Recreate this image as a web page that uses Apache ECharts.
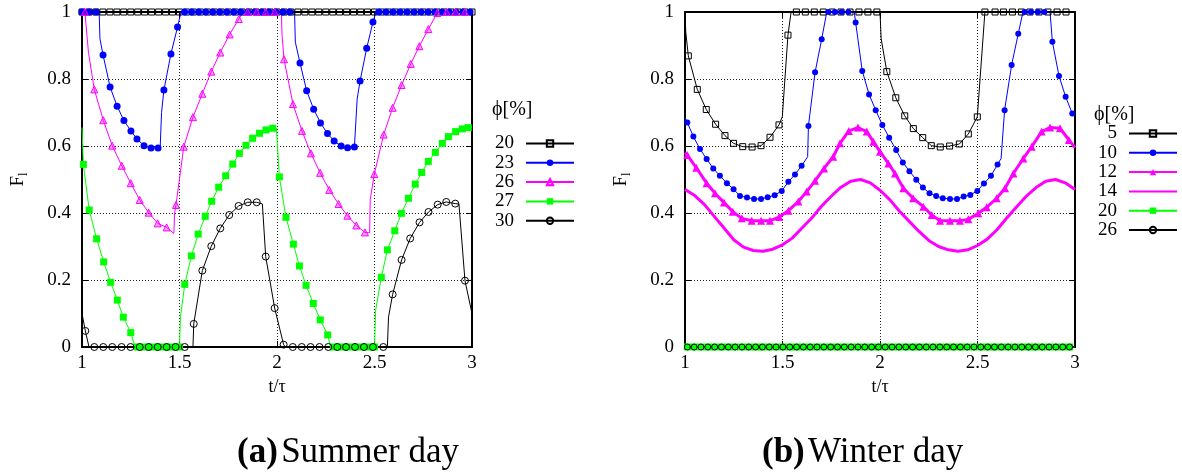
<!DOCTYPE html>
<html><head><meta charset="utf-8">
<script src="https://cdn.jsdelivr.net/npm/echarts@6.0.0/dist/echarts.min.js"></script>
<style>html,body{margin:0;padding:0;background:#fff}#c{width:1182px;height:472px}</style>
</head><body><div id="c"></div><script>
// ---------- tick labels ----------
const xTicks = [1, 1.5, 2, 2.5, 3];
const yTicks = [0, 0.2, 0.4, 0.6, 0.8, 1];

// ---------- (a) Summer day: phi = 20, 23, 26, 27, 30 ----------
const a20 = [[1.000,1],[1.036,1],[1.071,1],[1.107,1],[1.143,1],[1.179,1],[1.214,1],[1.250,1],[1.286,1],[1.321,1],[1.357,1],[1.393,1],[1.429,1],[1.464,1],[1.500,1],[1.536,1],[1.571,1],[1.607,1],[1.643,1],[1.679,1],[1.714,1],[1.750,1],[1.786,1],[1.821,1],[1.857,1],[1.893,1],[1.929,1],[1.964,1],[2.000,1],[2.036,1],[2.071,1],[2.107,1],[2.143,1],[2.179,1],[2.214,1],[2.250,1],[2.286,1],[2.321,1],[2.357,1],[2.393,1],[2.429,1],[2.464,1],[2.500,1],[2.536,1],[2.571,1],[2.607,1],[2.643,1],[2.679,1],[2.714,1],[2.750,1],[2.786,1],[2.821,1],[2.857,1],[2.893,1],[2.929,1],[2.964,1],[3.000,1]];
const a20_line = [];

const a23 = [[1.000,1],[1.036,1],[1.072,1],
  [1.108,0.872],[1.144,0.776],[1.180,0.719],[1.215,0.676],[1.251,0.645],[1.282,0.621],[1.318,0.601],[1.354,0.594],[1.390,0.594],
  [1.420,0.767],[1.456,0.875],[1.490,0.955],
  [1.526,1],[1.562,1],[1.598,1],[1.634,1],[1.670,1],[1.706,1],[1.742,1],[1.778,1],[1.814,1],[1.850,1],[1.886,1],[1.922,1],[1.958,1],[1.994,1],[2.030,1],[2.066,1],
  [2.118,0.848],[2.152,0.765],[2.188,0.710],[2.223,0.669],[2.259,0.637],[2.293,0.615],[2.329,0.600],[2.362,0.595],[2.397,0.597],
  [2.426,0.794],[2.460,0.892],[2.492,0.970],
  [2.522,1],[2.558,1],[2.594,1],[2.630,1],[2.666,1],[2.702,1],[2.738,1],[2.774,1],[2.810,1],[2.846,1],[2.882,1],[2.918,1],[2.954,1],[2.990,1]];
const a23_line = [[1.088,1],[1.092,0.92],[1.401,0.597],[1.408,0.70],[1.508,1],[2.090,1],[2.094,0.91],[2.403,0.600],[2.411,0.74],[2.508,1],[3.000,1]];

const a26 = [[1.015,1],
  [1.063,0.769],[1.109,0.677],[1.155,0.601],[1.204,0.541],[1.250,0.489],[1.296,0.439],[1.342,0.401],[1.388,0.369],[1.434,0.357],
  [1.482,0.424],[1.522,0.598],[1.569,0.686],[1.617,0.756],[1.663,0.822],[1.709,0.879],[1.757,0.933],[1.804,0.979],
  [1.849,1],[1.895,1],[1.942,1],[1.988,1],
  [2.036,0.859],[2.082,0.725],[2.128,0.645],[2.174,0.578],[2.221,0.520],[2.268,0.469],[2.316,0.427],[2.361,0.392],[2.407,0.363],[2.451,0.342],
  [2.499,0.516],[2.547,0.634],[2.593,0.714],[2.639,0.782],[2.686,0.845],[2.730,0.898],[2.776,0.949],[2.822,0.997],
  [2.870,1],[2.916,1],[2.963,1]];
const a26_line = [[1.000,1],[1.021,1],[1.033,0.880],[1.471,0.339],[1.475,0.40],[1.826,1],[2.022,1],[2.026,0.93],[2.475,0.341],[2.478,0.44],[2.830,1],[3.000,1]];

const a27 = [[1.007,0.545],[1.037,0.409],[1.075,0.323],[1.111,0.254],[1.147,0.193],[1.181,0.140],[1.212,0.089],[1.250,0.043],
  [1.284,0],[1.320,0],[1.356,0],[1.392,0],[1.428,0],[1.464,0],[1.500,0],
  [1.527,0.187],[1.561,0.272],[1.596,0.337],[1.632,0.390],[1.665,0.435],[1.701,0.477],[1.737,0.511],[1.773,0.546],[1.807,0.578],[1.841,0.602],[1.875,0.623],[1.910,0.638],[1.944,0.648],[1.978,0.653],
  [2.012,0.508],[2.046,0.387],[2.084,0.307],[2.115,0.242],[2.149,0.184],[2.186,0.130],[2.222,0.081],[2.260,0.036],
  [2.290,0],[2.326,0],[2.362,0],[2.398,0],[2.434,0],[2.470,0],[2.500,0],
  [2.535,0.208],[2.566,0.290],[2.604,0.347],[2.638,0.399],[2.674,0.444],[2.709,0.486],[2.742,0.521],[2.776,0.554],[2.812,0.581],[2.848,0.608],[2.879,0.628],[2.916,0.643],[2.950,0.651],[2.981,0.655]];
const a27_line = [[1.000,0.655],[1.272,0],[1.502,0],[1.505,0.09],[1.997,0.654],[2.275,0],[2.503,0],[2.506,0.11],[3.000,0.656]];

const a30 = [[1.017,0.048],
  [1.063,0],[1.109,0],[1.155,0],[1.203,0],[1.249,0],[1.296,0],[1.342,0],[1.388,0],[1.434,0],[1.480,0],[1.527,0],
  [1.573,0.069],[1.617,0.228],[1.663,0.301],[1.709,0.354],[1.755,0.394],[1.803,0.421],[1.850,0.432],[1.896,0.432],
  [1.942,0.270],[1.988,0.116],[2.034,0.007],
  [2.081,0],[2.127,0],[2.172,0],[2.218,0],[2.263,0],[2.309,0],[2.354,0],[2.400,0],[2.446,0],[2.492,0],[2.545,0],
  [2.593,0.157],[2.639,0.260],[2.683,0.324],[2.731,0.372],[2.777,0.403],[2.824,0.425],[2.868,0.433],[2.914,0.428],
  [2.964,0.198]];
const a30_line = [[1.000,0.100],[1.036,0],[1.569,0],[1.925,0.427],[2.042,0],[2.566,0],[2.572,0.09],[2.933,0.427],[3.000,0.100]];

// ---------- (b) Winter day: phi = 5, 10, 12, 14, 20, 26 ----------
const b5 = [[1.017,0.869],[1.063,0.769],[1.109,0.709],[1.157,0.665],[1.205,0.631],[1.249,0.608],[1.296,0.598],[1.344,0.597],[1.390,0.601],[1.436,0.626],[1.482,0.663],[1.528,0.931],
  [1.571,1],[1.617,1],[1.663,1],[1.709,1],[1.755,1],[1.800,1],[1.846,1],[1.892,1],[1.938,1],[1.984,1],
  [2.035,0.822],[2.081,0.744],[2.127,0.690],[2.171,0.652],[2.219,0.625],[2.263,0.601],[2.309,0.597],[2.357,0.600],[2.407,0.606],[2.453,0.636],[2.499,0.687],
  [2.538,1],[2.590,1],[2.633,1],[2.679,1],[2.725,1],[2.769,1],[2.815,1],[2.861,1],[2.908,1],[2.954,1]];
const b5_line = [[1.000,1],[1.004,0.94],[1.499,0.687],[1.544,1],[2.000,1],[2.006,0.92],[3.000,1]];

const b10 = [[1.012,0.670],[1.043,0.628],[1.077,0.591],[1.111,0.561],[1.145,0.533],[1.179,0.511],[1.215,0.489],[1.249,0.471],[1.282,0.451],[1.318,0.446],[1.354,0.442],[1.390,0.442],[1.424,0.447],[1.460,0.453],[1.496,0.466],[1.530,0.493],[1.564,0.515],[1.598,0.541],
  [1.633,0.660],[1.667,0.820],[1.701,0.919],
  [1.735,1],[1.769,1],[1.803,1],[1.838,1],
  [1.875,0.969],[1.909,0.824],[1.944,0.754],[1.978,0.707],[2.012,0.663],[2.047,0.625],[2.083,0.588],[2.117,0.551],[2.151,0.525],[2.186,0.499],[2.220,0.476],[2.254,0.459],[2.288,0.451],[2.322,0.444],[2.359,0.442],[2.395,0.442],[2.429,0.449],[2.463,0.454],[2.499,0.466],[2.533,0.488],[2.569,0.511],[2.603,0.545],
  [2.639,0.707],[2.675,0.842],[2.709,0.935],
  [2.742,1],[2.774,1],[2.810,1],[2.843,1],
  [2.884,0.911],[2.918,0.809],[2.952,0.747],[2.986,0.697]];
const b10_line = [[1.000,0.685],[1.629,0.568],[1.727,1],[1.868,1],[2.621,0.563],[2.733,1],[2.872,1],[3.000,0.690]];

const b12 = [[1.012,0.573],[1.058,0.535],[1.111,0.489],[1.154,0.459],[1.200,0.431],[1.245,0.404],[1.291,0.384],[1.342,0.377],[1.390,0.377],[1.436,0.377],[1.483,0.388],[1.530,0.407],[1.581,0.434],[1.624,0.464],[1.667,0.496],[1.713,0.533],[1.760,0.568],[1.795,0.608],[1.840,0.645],[1.887,0.655],[1.932,0.643],[1.966,0.613],[2.000,0.583],[2.043,0.548],[2.077,0.518],[2.120,0.474],[2.170,0.444],[2.222,0.419],[2.265,0.394],[2.308,0.377],[2.359,0.377],[2.410,0.377],[2.453,0.381],[2.504,0.399],[2.547,0.417],[2.598,0.444],[2.641,0.474],[2.684,0.518],[2.735,0.563],[2.778,0.598],[2.829,0.643],[2.872,0.655],[2.923,0.653],[2.969,0.618]];
const b12_line = [[1.000,0.580],[3.000,0.595]];

const b14 = [];
const b14_line = [[1.00,0.470],[1.05,0.452],[1.10,0.425],[1.15,0.390],[1.20,0.355],[1.25,0.320],[1.30,0.298],[1.35,0.288],[1.40,0.286],[1.45,0.292],[1.50,0.305],[1.55,0.325],[1.60,0.355],[1.65,0.385],[1.70,0.420],[1.75,0.450],[1.80,0.477],[1.85,0.495],[1.90,0.500],[1.95,0.490],[2.00,0.468],[2.05,0.440],[2.10,0.405],[2.15,0.375],[2.20,0.345],[2.25,0.318],[2.30,0.300],[2.35,0.290],[2.40,0.286],[2.45,0.290],[2.50,0.303],[2.55,0.322],[2.60,0.350],[2.65,0.385],[2.70,0.418],[2.75,0.450],[2.80,0.476],[2.85,0.495],[2.90,0.500],[2.95,0.490],[3.00,0.470]];

const b20 = [[1.012,0],[1.047,0],[1.082,0],[1.117,0],[1.152,0],[1.187,0],[1.222,0],[1.257,0],[1.292,0],[1.327,0],[1.362,0],[1.397,0],[1.432,0],[1.467,0],[1.502,0],[1.537,0],[1.572,0],[1.607,0],[1.642,0],[1.677,0],[1.712,0],[1.747,0],[1.782,0],[1.817,0],[1.852,0],[1.887,0],[1.922,0],[1.957,0],[1.992,0],[2.027,0],[2.062,0],[2.097,0],[2.132,0],[2.167,0],[2.202,0],[2.237,0],[2.272,0],[2.307,0],[2.342,0],[2.377,0],[2.412,0],[2.447,0],[2.482,0],[2.517,0],[2.552,0],[2.587,0],[2.622,0],[2.657,0],[2.692,0],[2.727,0],[2.762,0],[2.797,0],[2.832,0],[2.867,0],[2.902,0],[2.937,0],[2.972,0]];
const b20_line = [[1.000,0],[3.000,0]];
const b26 = [[1.012,0],[1.047,0],[1.082,0],[1.117,0],[1.152,0],[1.187,0],[1.222,0],[1.257,0],[1.292,0],[1.327,0],[1.362,0],[1.397,0],[1.432,0],[1.467,0],[1.502,0],[1.537,0],[1.572,0],[1.607,0],[1.642,0],[1.677,0],[1.712,0],[1.747,0],[1.782,0],[1.817,0],[1.852,0],[1.887,0],[1.922,0],[1.957,0],[1.992,0],[2.027,0],[2.062,0],[2.097,0],[2.132,0],[2.167,0],[2.202,0],[2.237,0],[2.272,0],[2.307,0],[2.342,0],[2.377,0],[2.412,0],[2.447,0],[2.482,0],[2.517,0],[2.552,0],[2.587,0],[2.622,0],[2.657,0],[2.692,0],[2.727,0],[2.762,0],[2.797,0],[2.832,0],[2.867,0],[2.902,0],[2.937,0],[2.972,0]];
const b26_line = [[1.000,0],[3.000,0]];

const legendA = ['20','23','26','27','30'];
const legendB = ['5','10','12','14','20','26'];
const captions = ['Summer day', 'Winter day'];

// ---------- chart ----------
const FONT = 'Liberation Serif';
const chart = echarts.init(document.getElementById('c'), null, {renderer: 'canvas'});

function build(markers, extras) {
  const pts = markers.map(p => ({value: p}));
  extras.forEach(p => pts.push({value: p, symbol: 'none'}));
  pts.sort((a, b) => a.value[0] - b.value[0]);
  return pts;
}
function mk(name, g, markers, extras, st) {
  return {
    name: name, type: 'line', xAxisIndex: g * 2, yAxisIndex: g * 2,
    data: build(markers, extras),
    symbol: st.symbol, symbolSize: st.size, showSymbol: true, showAllSymbol: true,
    lineStyle: {color: st.color, width: st.lw || 1},
    itemStyle: {color: st.fill, borderColor: st.color, borderWidth: st.bw || 0, opacity: 1},
    emphasis: {disabled: true}, clip: false, animation: false, silent: true, z: 3
  };
}
const BLACK = '#000', BLUE = '#0000ff', MAG = '#ff00ff', GREEN = '#00ff00';
const series = [
  mk('a' + legendA[0], 0, a20, a20_line, {symbol: 'rect', size: 6, color: BLACK, fill: 'rgba(0,0,0,0)', bw: 1}),
  mk('a' + legendA[1], 0, a23, a23_line, {symbol: 'circle', size: 7, color: BLUE, fill: BLUE}),
  mk('a' + legendA[2], 0, a26, a26_line, {symbol: 'triangle', size: 7, color: MAG, fill: 'rgba(255,0,255,0.35)', bw: 1}),
  mk('a' + legendA[3], 0, a27, a27_line, {symbol: 'rect', size: 7, color: GREEN, fill: GREEN}),
  mk('a' + legendA[4], 0, a30, a30_line, {symbol: 'circle', size: 7, color: BLACK, fill: 'rgba(0,0,0,0)', bw: 1}),
  mk('b' + legendB[0], 1, b5, b5_line, {symbol: 'rect', size: 6, color: BLACK, fill: 'rgba(0,0,0,0)', bw: 1}),
  mk('b' + legendB[1], 1, b10, b10_line, {symbol: 'circle', size: 6, color: BLUE, fill: BLUE}),
  mk('b' + legendB[2], 1, b12, b12_line, {symbol: 'triangle', size: 8, color: MAG, fill: MAG, lw: 3}),
  mk('b' + legendB[3], 1, b14, b14_line, {symbol: 'none', size: 0, color: MAG, fill: MAG, lw: 3}),
  mk('b' + legendB[4], 1, b20, b20_line, {symbol: 'rect', size: 7, color: GREEN, fill: GREEN}),
  mk('b' + legendB[5], 1, b26, b26_line, {symbol: 'circle', size: 6, color: BLACK, fill: 'rgba(0,0,0,0)', bw: 1})
];

const grids = [
  {left: 82, top: 12, width: 390, height: 335},
  {left: 685, top: 12, width: 390, height: 335}
];
const lbl = {fontFamily: FONT, fontSize: 19, color: '#000'};
const xAxes = [], yAxes = [];
grids.forEach((g, i) => {
  const common = {type: 'value', gridIndex: i, axisLine: {show: true, onZero: false, lineStyle: {color: '#000', width: 2}},
    axisTick: {show: true, inside: true, length: 6, lineStyle: {color: '#000', width: 1}}};
  xAxes.push(Object.assign({}, common, {
    position: 'bottom', min: xTicks[0], max: xTicks[xTicks.length - 1], interval: xTicks[1] - xTicks[0],
    axisLabel: Object.assign({margin: 7, formatter: v => String(+v.toFixed(2))}, lbl),
    splitLine: {show: true, lineStyle: {color: '#222', width: 1, type: [1, 2]}},
    name: 't/τ', nameLocation: 'middle', nameGap: 28, nameTextStyle: {fontFamily: FONT, fontSize: 18, color: '#000'}
  }));
  xAxes.push(Object.assign({}, common, {
    position: 'top', min: xTicks[0], max: xTicks[xTicks.length - 1], interval: xTicks[1] - xTicks[0],
    axisLabel: {show: false}, splitLine: {show: false}
  }));
  yAxes.push(Object.assign({}, common, {
    position: 'left', min: yTicks[0], max: yTicks[yTicks.length - 1], interval: yTicks[1] - yTicks[0],
    axisLabel: Object.assign({margin: 11, formatter: v => String(+v.toFixed(2))}, lbl),
    splitLine: {show: true, lineStyle: {color: '#222', width: 1, type: [1, 2]}},
    name: '{a|F}{b|l}', nameLocation: 'middle', nameGap: 52, nameRotate: 90,
    nameTextStyle: {rich: {a: {fontFamily: FONT, fontSize: 19, color: '#000', lineHeight: 24}, b: {fontFamily: FONT, fontSize: 12, color: '#000', lineHeight: 12, verticalAlign: 'bottom'}}}
  }));
  yAxes.push(Object.assign({}, common, {
    position: 'right', min: yTicks[0], max: yTicks[yTicks.length - 1], interval: yTicks[1] - yTicks[0],
    axisLabel: {show: false}, splitLine: {show: false}
  }));
});

function legendCfg(prefix, names, right, top) {
  return {
    orient: 'vertical', align: 'right', right: right, top: top,
    itemWidth: 48, itemHeight: 8, itemGap: 0.3, padding: 0,
    selectedMode: false, inactiveColor: '#000',
    data: names.map(n => (prefix === 'b' && n === '14') ? {name: prefix + n, itemStyle: {opacity: 0}} : {name: prefix + n}),
    formatter: name => name.slice(1),
    textStyle: {fontFamily: FONT, fontSize: 19, lineHeight: 18, color: '#000', padding: [0, 7, 0, 0]}
  };
}

const capRich = {b: {fontFamily: FONT, fontSize: 35, fontWeight: 'bold', fill: '#000'}, n: {fontFamily: FONT, fontSize: 35, fill: '#000'}};
const option = {
  backgroundColor: '#fff',
  animation: false,
  grid: grids,
  xAxis: xAxes,
  yAxis: yAxes,
  legend: [legendCfg('a', legendA, 607, 134), legendCfg('b', legendB, 4, 124)],
  series: series,
  graphic: [
    {type: 'text', left: 492, top: 100, style: {text: 'ϕ[%]', fontFamily: FONT, fontSize: 20, fill: '#000'}},
    {type: 'text', left: 1094, top: 105, style: {text: 'ϕ[%]', fontFamily: FONT, fontSize: 20, fill: '#000'}},
    {type: 'text', left: 237, top: 435, style: {text: '{b|(a)} {n|' + captions[0] + '}', rich: capRich}},
    {type: 'text', left: 762, top: 435, style: {text: '{b|(b)} {n|' + captions[1] + '}', rich: capRich}}
  ]
};
chart.setOption(option);
</script></body></html>
